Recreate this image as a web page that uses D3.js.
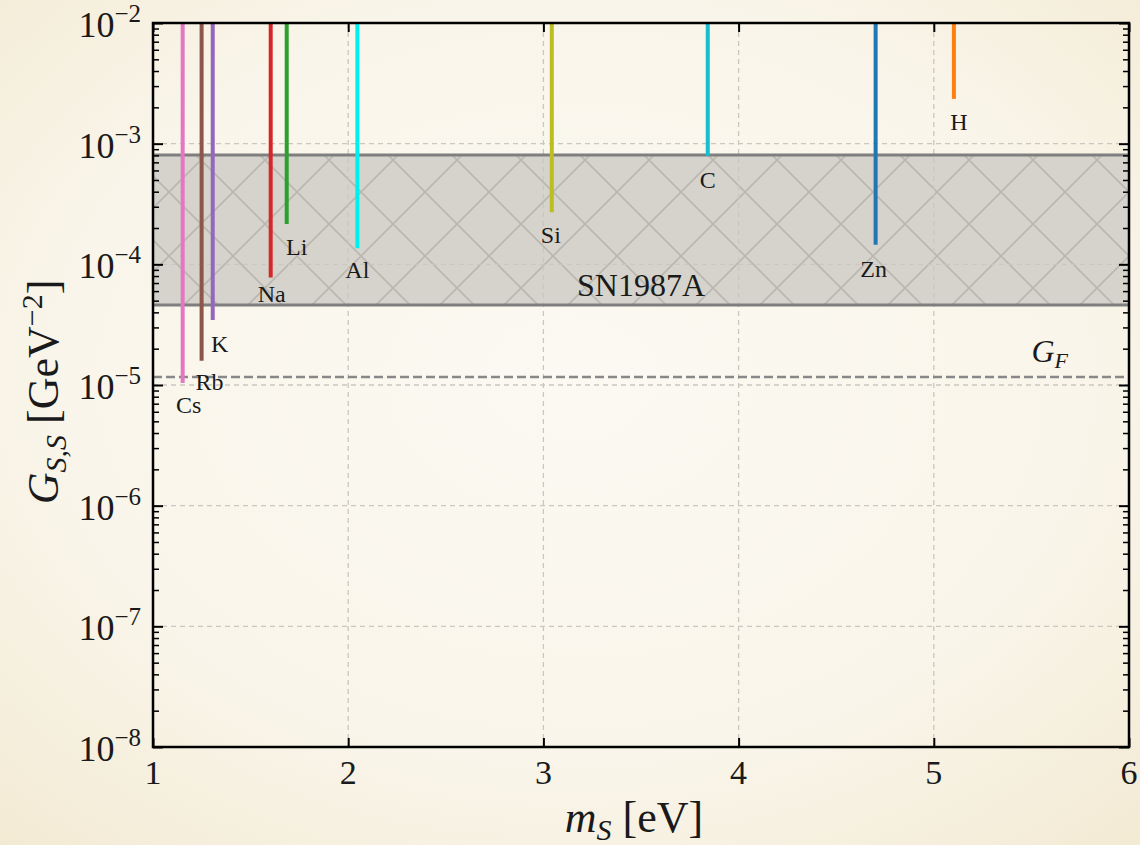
<!DOCTYPE html>
<html>
<head>
<meta charset="utf-8">
<script src="https://cdn.jsdelivr.net/npm/d3@7"></script>
<style>
  html, body { margin: 0; padding: 0; }
  body { width: 1140px; height: 845px; overflow: hidden; }
  svg text { font-family: "Liberation Serif", "DejaVu Serif", serif; fill: #1a1a1a; }
</style>
</head>
<body>
<svg id="chart" width="1140" height="845"></svg>
<script>
// Elements and the coupling range each one probes (line runs from gMin up to the top of the plot)
const elements = ["Cs", "Rb", "K", "Na", "Li", "Al", "Si", "C", "Zn", "H"];
const masses   = [1.152, 1.249, 1.306, 1.603, 1.685, 2.047, 3.043, 3.842, 4.702, 5.103];
const gMin     = [1.04e-5, 1.59e-5, 3.46e-5, 7.76e-5, 2.16e-4, 1.36e-4, 2.70e-4, 7.9e-4, 1.45e-4, 2.35e-3];
const colors   = ["#e377c2", "#8c564b", "#9467bd", "#d62728", "#2ca02c", "#00f0f0", "#bcbd22", "#17becf", "#1f77b4", "#ff7f0e"];

// SN1987A excluded band and the Fermi constant
const snBand = [4.6e-5, 8.05e-4];
const fermiG = 1.1664e-5;

// Axis ticks
const xTicks = [1, 2, 3, 4, 5, 6];
const yExponents = [-8, -7, -6, -5, -4, -3, -2];

// label nudges (px) for the element names
const labelDx = [6, 8, 7, 1, 10, 0, -1, 0, -2, 5];
const labelDy = [30, 29, 32, 24, 31, 30, 31, 32, 32, 31];

(function draw() {
  const svg = d3.select("#chart");
  const W = 1140, H = 845;
  const pl = 153, pr = 1129, pt = 23, pb = 747;

  const x = d3.scaleLinear().domain([1, 6]).range([pl, pr]);
  const y = d3.scaleLog().domain([1e-8, 1e-2]).range([pb, pt]);

  const defs = svg.append("defs");
  const bg = defs.append("radialGradient").attr("id", "bg")
    .attr("cx", "50%").attr("cy", "45%").attr("r", "75%");
  bg.append("stop").attr("offset", "0%").attr("stop-color", "#fbf9f2");
  bg.append("stop").attr("offset", "60%").attr("stop-color", "#f9f5ea");
  bg.append("stop").attr("offset", "100%").attr("stop-color", "#f3ead3");

  const hatch = defs.append("pattern").attr("id", "hatch")
    .attr("patternUnits", "userSpaceOnUse")
    .attr("x", 41).attr("y", 0).attr("width", 64).attr("height", 64);
  hatch.append("rect").attr("width", 64).attr("height", 64).attr("fill", "#d5d3cb");
  hatch.append("path").attr("d", "M0,0L64,64M0,64L64,0")
    .attr("stroke", "#b9b7b0").attr("stroke-width", 1.6).attr("fill", "none");

  defs.append("clipPath").attr("id", "plotClip")
    .append("rect").attr("x", pl).attr("y", pt).attr("width", pr - pl).attr("height", pb - pt);

  svg.append("rect").attr("width", W).attr("height", H).attr("fill", "url(#bg)");

  const plot = svg.append("g").attr("clip-path", "url(#plotClip)");

  // SN1987A band
  plot.append("rect")
    .attr("x", pl).attr("width", pr - pl)
    .attr("y", y(snBand[1])).attr("height", y(snBand[0]) - y(snBand[1]))
    .attr("fill", "url(#hatch)");

  // grid
  const grid = plot.append("g").attr("stroke", "#c9c7c0").attr("stroke-width", 1.3)
    .attr("stroke-dasharray", "5,4").attr("fill", "none");
  xTicks.slice(1, -1).forEach(v => {
    grid.append("line").attr("x1", x(v)).attr("x2", x(v)).attr("y1", pt).attr("y2", pb);
  });
  yExponents.slice(1, -1).forEach(e => {
    grid.append("line").attr("x1", pl).attr("x2", pr).attr("y1", y(Math.pow(10, e))).attr("y2", y(Math.pow(10, e)));
  });

  // band edges
  snBand.forEach(v => {
    plot.append("line").attr("x1", pl).attr("x2", pr)
      .attr("y1", y(v)).attr("y2", y(v))
      .attr("stroke", "#7f7f7f").attr("stroke-width", 3);
  });

  // Fermi constant
  plot.append("line").attr("x1", pl).attr("x2", pr)
    .attr("y1", y(fermiG)).attr("y2", y(fermiG))
    .attr("stroke", "#888888").attr("stroke-width", 2.4).attr("stroke-dasharray", "9,4");

  // element lines
  elements.forEach((el, i) => {
    plot.append("line")
      .attr("x1", x(masses[i])).attr("x2", x(masses[i]))
      .attr("y1", y(gMin[i])).attr("y2", y(1e-2))
      .attr("stroke", colors[i]).attr("stroke-width", 4);
  });

  // element labels
  elements.forEach((el, i) => {
    svg.append("text")
      .attr("x", x(masses[i]) + labelDx[i])
      .attr("y", y(gMin[i]) + labelDy[i])
      .attr("text-anchor", "middle")
      .attr("font-size", 24)
      .text(el);
  });

  svg.append("text").attr("x", x(3.5)).attr("y", 296)
    .attr("text-anchor", "middle").attr("font-size", 32).text("SN1987A");

  const gf = svg.append("text").attr("x", x(5.5)).attr("y", 362).attr("font-size", 32);
  gf.append("tspan").attr("font-style", "italic").text("G");
  gf.append("tspan").attr("font-style", "italic").attr("font-size", 22).attr("dy", 6).text("F");

  // frame
  svg.append("rect").attr("x", pl).attr("y", pt).attr("width", pr - pl).attr("height", pb - pt)
    .attr("fill", "none").attr("stroke", "#000").attr("stroke-width", 2.5);

  // axes with inward ticks
  const tickStyle = g => g.call(s => s.select(".domain").remove())
    .call(s => s.selectAll(".tick line").attr("stroke", "#000").attr("stroke-width", 2))
    .call(s => s.selectAll(".tick text").remove());

  const majorY = yExponents.map(e => Math.pow(10, e));
  const minorY = [];
  yExponents.slice(0, -1).forEach(e => { for (let k = 2; k <= 9; k++) minorY.push(k * Math.pow(10, e)); });

  svg.append("g").attr("transform", `translate(0,${pb})`)
    .call(d3.axisBottom(x).tickValues(xTicks).tickSize(-9)).call(tickStyle);
  svg.append("g").attr("transform", `translate(0,${pt})`)
    .call(d3.axisTop(x).tickValues(xTicks).tickSize(-9)).call(tickStyle);
  svg.append("g").attr("transform", `translate(${pl},0)`)
    .call(d3.axisLeft(y).tickValues(majorY).tickSize(-10)).call(tickStyle);
  svg.append("g").attr("transform", `translate(${pr},0)`)
    .call(d3.axisRight(y).tickValues(majorY).tickSize(-10)).call(tickStyle);
  svg.append("g").attr("transform", `translate(${pl},0)`)
    .call(d3.axisLeft(y).tickValues(minorY).tickSize(-6)).call(tickStyle)
    .selectAll(".tick line").attr("stroke-width", 1.5);
  svg.append("g").attr("transform", `translate(${pr},0)`)
    .call(d3.axisRight(y).tickValues(minorY).tickSize(-6)).call(tickStyle)
    .selectAll(".tick line").attr("stroke-width", 1.5);

  // tick labels
  xTicks.forEach(v => {
    svg.append("text").attr("x", x(v)).attr("y", 784).attr("text-anchor", "middle")
      .attr("font-size", 34).text(v);
  });
  yExponents.forEach(e => {
    const t = svg.append("text").attr("x", 141).attr("y", y(Math.pow(10, e)) + 14)
      .attr("text-anchor", "end").attr("font-size", 36);
    t.append("tspan").text("10");
    t.append("tspan").attr("font-size", 25).attr("dy", -15).text("\u2212" + Math.abs(e));
  });

  // axis titles
  const xt = svg.append("text").attr("x", 634).attr("y", 832).attr("text-anchor", "middle").attr("font-size", 44);
  xt.append("tspan").attr("font-style", "italic").text("m");
  xt.append("tspan").attr("font-style", "italic").attr("font-size", 30).attr("dy", 8).text("S");
  xt.append("tspan").attr("dy", -8).text(" [eV]");

  const yt = svg.append("text").attr("transform", "translate(58,392) rotate(-90)")
    .attr("text-anchor", "middle").attr("font-size", 44);
  yt.append("tspan").attr("font-style", "italic").text("G");
  yt.append("tspan").attr("font-style", "italic").attr("font-size", 30).attr("dy", 8).text("S,S");
  yt.append("tspan").attr("dy", -8).text(" [GeV");
  yt.append("tspan").attr("font-size", 30).attr("dy", -16).text("\u22122");
  yt.append("tspan").attr("dy", 16).text("]");
})();
</script>
</body>
</html>
